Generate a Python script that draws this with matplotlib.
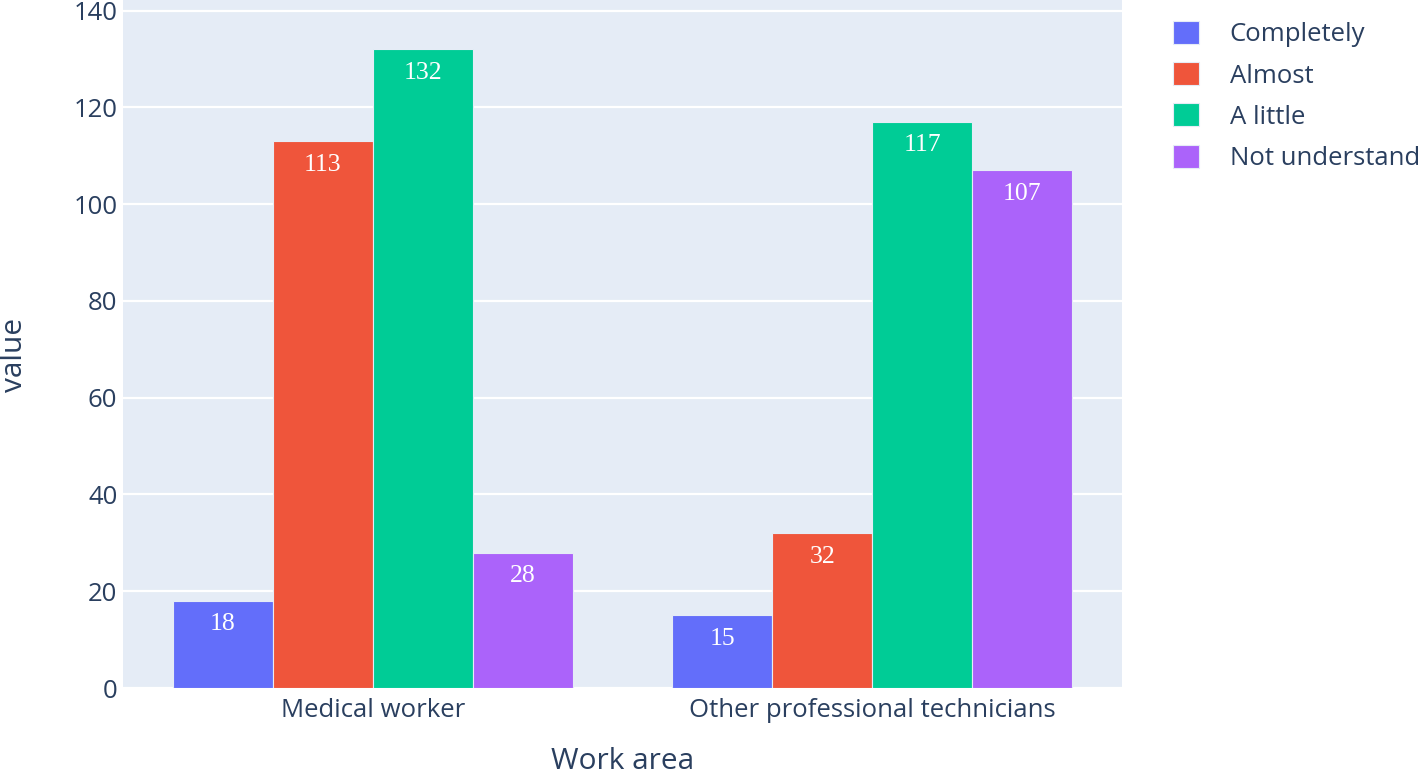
import matplotlib.pyplot as plt
import numpy as np

categories = ["Medical worker", "Other professional technicians"]
series_names = ["Completely", "Almost", "A little", "Not understand"]
completely = [18, 15]
almost = [113, 32]
a_little = [132, 117]
not_understand = [28, 107]

colors = ["#636EFA", "#EF553B", "#00CC96", "#AB63FA"]
text_color = "#2a3f5f"

plt.rcParams["font.family"] = ["Open Sans", "DejaVu Sans"]

fig = plt.figure(figsize=(14.18, 7.79), dpi=100)
ax = fig.add_axes([123 / 1418, 1 - 688 / 779, 999 / 1418, 688 / 779])
ax.set_facecolor("#E5ECF6")

x = np.arange(len(categories))
width = 0.2
all_values = [completely, almost, a_little, not_understand]

for i, (name, vals) in enumerate(zip(series_names, all_values)):
    pos = x + (i - 1.5) * width
    bars = ax.bar(pos, vals, width, color=colors[i], label=name,
                  edgecolor="#E5ECF6", linewidth=0.8, zorder=3)
    for b, v in zip(bars, vals):
        ax.annotate(str(v), (b.get_x() + b.get_width() / 2, v),
                    xytext=(0, -9), textcoords="offset points",
                    ha="center", va="top", color="white", fontsize=18.5,
                    family="Liberation Serif", zorder=4)

ax.set_xlim(-0.5, 1.5)
ax.set_ylim(0, 142.2)
ax.set_yticks(range(0, 141, 20))
ax.set_xticks(x)
ax.set_xticklabels(categories)
ax.grid(axis="y", color="white", linewidth=1.6, zorder=0)
ax.set_axisbelow(True)
for s in ax.spines.values():
    s.set_visible(False)
ax.tick_params(axis="both", length=0, labelsize=18.5, labelcolor=text_color)
ax.tick_params(axis="y", pad=4)
ax.tick_params(axis="x", pad=7)

ax.set_xlabel("Work area", fontsize=21.5, color=text_color)
ax.set_ylabel("value", fontsize=21.5, color=text_color)
ax.xaxis.set_label_coords(0.5, (688 - 747) / 688)
ax.yaxis.set_label_coords((29 - 123) / 999, (688 - 355) / 688)

fig.legend(loc="upper left", bbox_to_anchor=(1173 / 1418, 1 - 21 / 779),
           frameon=False, fontsize=18.5, labelcolor=text_color,
           handlelength=1.0, handleheight=1.0, handletextpad=1.2,
           labelspacing=0.58, borderpad=0, borderaxespad=0)

fig.savefig("out.png", dpi=100)
